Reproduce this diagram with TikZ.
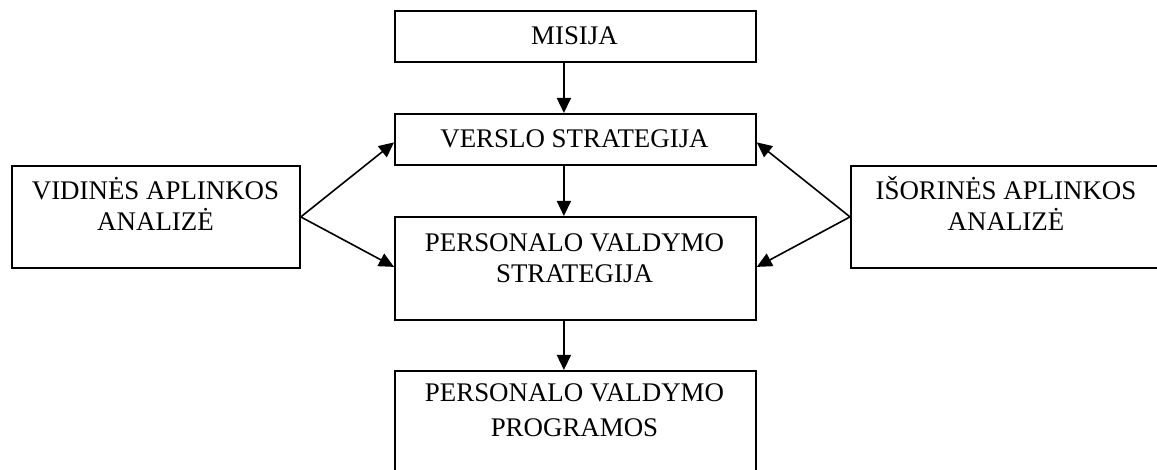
\documentclass[tikz,border=0pt]{standalone}
\usepackage{fontspec}
\setmainfont{Liberation Serif}
\usetikzlibrary{arrows.meta}
\begin{document}
\begin{tikzpicture}[x=1pt,y=-1pt,
  box/.style={draw, line width=1.8pt, inner sep=0pt, anchor=north west},
  lbl/.style={font=\fontsize{26.9}{31}\selectfont, align=center, inner sep=0pt, anchor=base},
  arr/.style={line width=1.6pt, -{Triangle[length=15pt,width=14pt]}}]
\useasboundingbox (0,0) rectangle (1157,470);
\clip (0,0) rectangle (1157,470);
\node[box, minimum width=361pt, minimum height=51pt] (mis) at (394,10) {};
\node[box, minimum width=361pt, minimum height=51pt] (vs) at (394,113) {};
\node[box, minimum width=288pt, minimum height=102pt] (vid) at (11,165) {};
\node[box, minimum width=361pt, minimum height=103pt] (pvs) at (394,216) {};
\node[box, minimum width=361pt, minimum height=120pt] (pvp) at (394,370) {};
\node[box, minimum width=330pt, minimum height=102pt] (iso) at (850,165) {};
\node[lbl] (tmis) at (574.5,45) {MISIJA};
\node[lbl] (tvs) at (574.5,148) {VERSLO STRATEGIJA};
\node[lbl] (tvid1) at (155.5,200) {VIDINĖS APLINKOS};
\node[lbl] (tvid2) at (155.5,231) {ANALIZĖ};
\node[lbl] (tiso1) at (1006,200) {IŠORINĖS APLINKOS};
\node[lbl] (tiso2) at (1006,231) {ANALIZĖ};
\node[lbl] (tpvs1) at (574.5,252) {PERSONALO VALDYMO};
\node[lbl] (tpvs2) at (574.5,283) {STRATEGIJA};
\node[lbl] (tpvp1) at (574.5,401) {PERSONALO VALDYMO};
\node[lbl] (tpvp2) at (574.5,436) {PROGRAMOS};
\draw[arr] ([xshift=-11.5pt]mis.south) -- ([xshift=-11.5pt]vs.north);
\draw[arr] ([xshift=-11.5pt]vs.south) -- ([xshift=-11.5pt]pvs.north);
\draw[arr] ([xshift=-11.5pt]pvs.south) -- ([xshift=-11.5pt]pvp.north);
\draw[arr] (vid.east) -- ([yshift=-3pt]vs.west);
\draw[arr] (vid.east) -- ([yshift=1.5pt]pvs.west);
\draw[arr] (iso.west) -- ([yshift=-3pt]vs.east);
\draw[arr] (iso.west) -- ([yshift=1.5pt]pvs.east);
\end{tikzpicture}
\end{document}
